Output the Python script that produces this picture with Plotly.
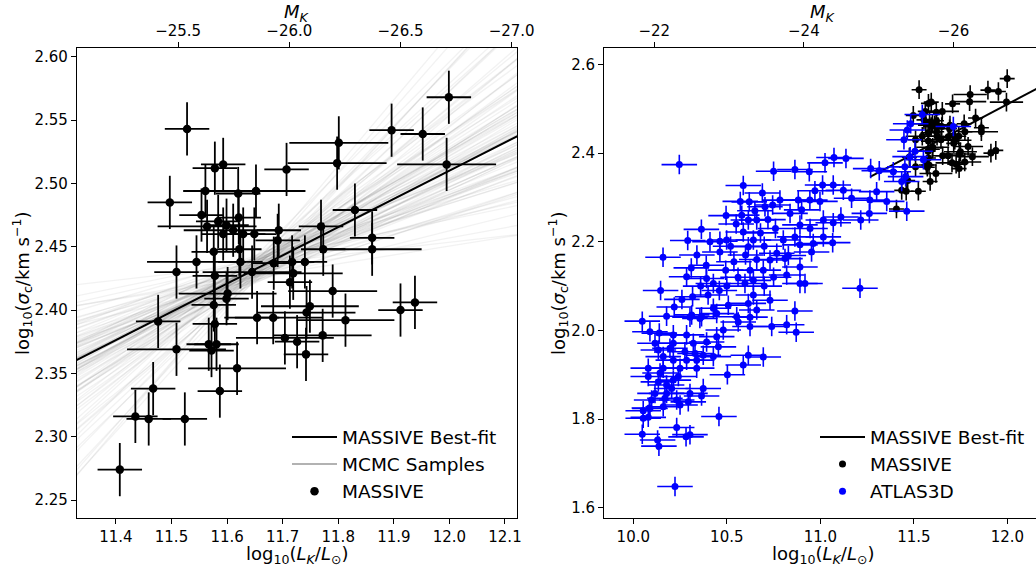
import plotly.graph_objects as go

# ---------------- data ----------------
MASSIVE_LOGLK = [11.528, 11.999, 11.896, 11.952, 11.801, 11.798, 11.995, 11.707, 11.578, 11.593,
                 11.497, 11.561, 11.620, 11.652, 11.554, 11.830, 11.584, 11.621, 11.564, 11.599,
                 11.611, 11.593, 11.629, 11.649, 11.693, 11.691, 11.769, 11.861, 11.861, 11.773,
                 11.576, 11.622, 11.509, 11.545, 11.624, 11.684, 11.717, 11.740, 11.578, 11.645,
                 11.719, 11.713, 11.790, 11.601, 11.599, 11.576, 11.938, 11.912, 11.749, 11.743,
                 11.654, 11.683, 11.813, 11.476, 11.578, 11.772, 11.704, 11.726, 11.567, 11.581,
                 11.572, 11.509, 11.742, 11.618, 11.467, 11.587, 11.435, 11.459, 11.524, 11.407]
MASSIVE_LOGSIG = [2.543, 2.568, 2.542, 2.539, 2.532, 2.516, 2.515, 2.511, 2.512, 2.515,
                  2.485, 2.494, 2.492, 2.494, 2.475, 2.479, 2.470, 2.473, 2.466, 2.467,
                  2.463, 2.460, 2.460, 2.460, 2.463, 2.455, 2.466, 2.457, 2.448, 2.448,
                  2.446, 2.448, 2.430, 2.438, 2.438, 2.437, 2.438, 2.438, 2.427, 2.430,
                  2.429, 2.422, 2.415, 2.413, 2.409, 2.404, 2.406, 2.400, 2.403, 2.398,
                  2.394, 2.394, 2.392, 2.391, 2.389, 2.380, 2.378, 2.375, 2.373, 2.373,
                  2.368, 2.369, 2.365, 2.354, 2.338, 2.336, 2.316, 2.314, 2.314, 2.274]
MASSIVE_XERR = [0.040, 0.040, 0.040, 0.040, 0.089, 0.089, 0.089, 0.040, 0.040, 0.040,
                0.040, 0.040, 0.040, 0.089, 0.040, 0.040, 0.040, 0.040, 0.089, 0.040,
                0.089, 0.040, 0.040, 0.040, 0.040, 0.040, 0.040, 0.040, 0.089, 0.040,
                0.040, 0.040, 0.040, 0.089, 0.040, 0.040, 0.040, 0.040, 0.040, 0.089,
                0.089, 0.040, 0.080, 0.088, 0.040, 0.040, 0.040, 0.040, 0.088, 0.088,
                0.040, 0.088, 0.088, 0.040, 0.040, 0.088, 0.088, 0.040, 0.040, 0.040,
                0.040, 0.089, 0.040, 0.088, 0.040, 0.040, 0.040, 0.040, 0.040, 0.040]
MASSIVE_YERR = [0.021, 0.021, 0.021, 0.021, 0.021, 0.021, 0.021, 0.021, 0.021, 0.021,
                0.021, 0.021, 0.021, 0.021, 0.021, 0.021, 0.021, 0.021, 0.021, 0.021,
                0.021, 0.021, 0.021, 0.021, 0.021, 0.021, 0.021, 0.021, 0.021, 0.021,
                0.021, 0.021, 0.021, 0.021, 0.021, 0.021, 0.021, 0.021, 0.021, 0.021,
                0.021, 0.021, 0.021, 0.021, 0.021, 0.021, 0.021, 0.021, 0.021, 0.021,
                0.021, 0.021, 0.021, 0.021, 0.021, 0.021, 0.021, 0.021, 0.021, 0.021,
                0.021, 0.021, 0.021, 0.021, 0.021, 0.021, 0.021, 0.021, 0.021, 0.021]

ATLAS_LOGLK = [
    10.246, 10.750, 10.588, 10.572, 10.496, 10.784, 10.364, 10.291, 10.463, 10.159,
    10.390, 10.310, 10.463, 10.285, 10.146, 10.317, 10.219, 10.615, 10.660, 10.704,
    10.745, 10.588, 10.642, 10.615, 10.499, 10.538, 10.494, 10.624, 10.392, 10.428,
    10.597, 10.642, 10.695, 10.731, 10.767, 10.642, 10.731, 10.615, 10.508, 10.428,
    10.312, 10.365, 10.553, 10.660, 10.550, 10.680, 10.720, 10.580, 10.650, 10.520,
    10.700, 10.600, 10.660, 10.560, 10.500, 10.460, 10.700, 10.750, 10.360, 10.400,
    10.260, 10.340, 10.410, 10.760, 10.620, 10.690,
    10.864, 10.941, 11.025, 11.073, 11.137, 11.269, 11.315, 11.390, 11.452, 10.971,
    11.012, 11.069, 11.123, 11.167, 10.882, 10.944, 10.998, 11.301, 11.355, 11.265,
    11.262, 11.216, 11.462, 11.110, 11.069, 11.016, 10.900, 10.838, 10.891, 10.945,
    11.016, 10.864, 10.802, 10.891, 10.962, 11.066, 10.829, 10.891, 10.953, 10.811,
    11.212, 10.891, 10.918, 10.820, 10.864,
    11.435, 11.456, 11.480, 11.551, 11.447, 11.465, 11.483, 11.545, 11.506, 11.711,
    10.048, 10.178, 10.089, 10.139, 10.214, 10.285, 10.116, 10.196, 10.160, 10.214,
    10.080, 10.160, 10.250, 10.339, 10.134, 10.178, 10.214, 10.241, 10.116, 10.178,
    10.169, 10.232, 10.303, 10.365, 10.374, 10.294, 10.250, 10.160, 10.089, 10.053,
    10.053, 10.080, 10.048, 10.130, 10.137, 10.232, 10.282, 10.303, 10.458, 10.223,
    10.503, 10.588, 10.615, 10.695, 10.392, 10.446, 10.481, 10.624, 10.740, 10.820,
    10.339, 10.285, 10.330, 10.374, 10.428, 10.455, 10.143, 10.080, 10.303, 10.356,
    10.446, 10.561, 10.624, 10.134, 10.214, 10.321, 10.276, 10.205, 10.098, 10.871,
    10.086]
ATLAS_LOGSIG = [
    2.374, 2.359, 2.327, 2.291, 2.259, 2.294, 2.228, 2.203, 2.201, 2.165,
    2.147, 2.141, 2.177, 2.121, 2.090, 2.076, 2.053, 2.249, 2.249, 2.279,
    2.283, 2.222, 2.204, 2.189, 2.204, 2.155, 2.136, 2.136, 2.117, 2.106,
    2.106, 2.113, 2.136, 2.159, 2.174, 2.080, 2.068, 2.061, 2.057, 2.050,
    2.035, 2.031, 2.031, 2.046, 2.240, 2.220, 2.250, 2.260, 2.270, 2.190,
    2.190, 2.170, 2.160, 2.120, 2.100, 2.090, 2.100, 2.120, 2.100, 2.080,
    2.070, 2.170, 2.200, 2.230, 2.290, 2.310,
    2.363, 2.358, 2.378, 2.390, 2.388, 2.365, 2.360, 2.358, 2.369, 2.315,
    2.328, 2.328, 2.316, 2.298, 2.294, 2.294, 2.291, 2.313, 2.291, 2.294,
    2.264, 2.249, 2.269, 2.256, 2.243, 2.249, 2.272, 2.264, 2.238, 2.230,
    2.211, 2.211, 2.204, 2.193, 2.196, 2.198, 2.169, 2.143, 2.177, 2.162,
    2.095, 2.106, 2.106, 2.125, 2.044,
    2.336, 2.347, 2.392, 2.385, 2.430, 2.452, 2.466, 2.487, 2.404, 2.460,
    2.021, 2.032, 1.997, 1.994, 1.990, 1.990, 1.971, 1.960, 1.941, 1.933,
    1.915, 1.915, 1.915, 1.915, 1.884, 1.877, 1.888, 1.896, 1.858, 1.858,
    1.847, 1.843, 1.858, 1.852, 1.869, 1.839, 1.832, 1.828, 1.824, 1.819,
    1.802, 1.804, 1.766, 1.753, 1.739, 1.781, 1.760, 1.765, 1.806, 1.648,
    1.900, 1.922, 1.944, 1.940, 1.974, 1.986, 2.001, 2.009, 2.009, 2.013,
    1.933, 1.933, 1.948, 1.944, 1.941, 1.963, 1.904, 1.896, 2.030, 2.027,
    2.038, 2.019, 2.030, 1.956, 1.971, 1.971, 1.952, 1.869, 1.843, 1.996,
    1.825]
ATLAS_XERR = 0.095
ATLAS_YERR = 0.022

# best-fit relation: log sigma = BEST_AT_PIVOT + BEST_SLOPE * (logL - BEST_PIVOT)
BEST_SLOPE = 0.223
BEST_PIVOT = 11.65
BEST_AT_PIVOT = 2.432
BEST_X = [11.266, 12.30]

# MCMC posterior samples (slope, offset at pivot)
MCMC_SLOPES = [0.05, 0.08, 0.10, 0.11, 0.12, 0.13, 0.14, 0.14, 0.15, 0.15,
               0.16, 0.16, 0.17, 0.17, 0.18, 0.18, 0.18, 0.19, 0.19, 0.19,
               0.20, 0.20, 0.20, 0.21, 0.21, 0.21, 0.22, 0.22, 0.22, 0.22,
               0.23, 0.23, 0.23, 0.24, 0.24, 0.24, 0.25, 0.25, 0.25, 0.26,
               0.26, 0.27, 0.27, 0.28, 0.28, 0.29, 0.29, 0.30, 0.31, 0.32,
               0.33, 0.34, 0.35, 0.36, 0.38, 0.40, 0.42, 0.45, 0.48, 0.52,
               0.07, 0.09, 0.12, 0.135, 0.145, 0.155, 0.165, 0.175, 0.185, 0.195,
               0.205, 0.215, 0.225, 0.235, 0.245, 0.255, 0.265, 0.275, 0.285, 0.295,
               0.305, 0.315, 0.325, 0.345, 0.37, 0.39, 0.41, 0.44, 0.47, 0.50,
               0.17, 0.19, 0.21, 0.23, 0.20, 0.22, 0.24, 0.26, 0.18, 0.25]
MCMC_OFFSETS = [0.004, -0.003, 0.006, -0.008, 0.001, 0.009, -0.005, 0.003, -0.010, 0.007,
                -0.002, 0.005, -0.006, 0.011, 0.000, -0.004, 0.008, -0.009, 0.002, -0.001,
                0.006, -0.007, 0.004, -0.003, 0.010, -0.011, 0.001, 0.005, -0.005, 0.003,
                -0.002, 0.007, -0.008, 0.000, 0.009, -0.004, 0.002, -0.006, 0.006, -0.001,
                0.004, -0.009, 0.008, -0.003, 0.001, -0.007, 0.005, 0.003, -0.005, 0.010,
                -0.002, 0.006, -0.010, 0.002, -0.004, 0.007, -0.006, 0.001, -0.008, 0.004,
                -0.006, 0.008, -0.002, 0.005, -0.009, 0.003, 0.000, -0.005, 0.007, -0.003,
                0.009, -0.007, 0.002, -0.001, 0.006, -0.010, 0.004, -0.004, 0.008, -0.002,
                0.001, 0.005, -0.006, 0.003, -0.008, 0.007, -0.003, 0.010, -0.005, 0.002,
                0.000, 0.003, -0.003, 0.005, -0.005, 0.001, -0.002, 0.004, -0.006, 0.006]
MCMC_X = [11.30, 12.15]

M_SUN_K = 3.28
LEFT_XRANGE = [11.33, 12.1216]
LEFT_YRANGE = [2.2358, 2.6069]
RIGHT_XRANGE = [9.845, 12.153]
RIGHT_YRANGE = [1.577, 2.637]

FONT = "DejaVu Sans"
W, H = 1036, 567


def mk(v):
    return M_SUN_K - 2.5 * v


def fit(x, a, b):
    return a + b * (x - BEST_PIVOT)


fig = go.Figure()

# ---- left panel ----
for s, o in zip(MCMC_SLOPES, MCMC_OFFSETS):
    fig.add_trace(go.Scatter(
        x=MCMC_X, y=[fit(v, BEST_AT_PIVOT + o, s) for v in MCMC_X],
        mode="lines", line=dict(color="rgba(100,100,100,0.085)", width=1.3),
        showlegend=False, hoverinfo="skip", xaxis="x", yaxis="y"))

fig.add_trace(go.Scatter(
    x=BEST_X, y=[fit(v, BEST_AT_PIVOT, BEST_SLOPE) for v in BEST_X],
    mode="lines", line=dict(color="black", width=2),
    name="MASSIVE Best-fit", legend="legend", xaxis="x", yaxis="y"))
fig.add_trace(go.Scatter(
    x=[None], y=[None], mode="lines", line=dict(color="rgba(128,128,128,0.8)", width=1.5),
    name="MCMC Samples", legend="legend", xaxis="x", yaxis="y"))
fig.add_trace(go.Scatter(
    x=MASSIVE_LOGLK, y=MASSIVE_LOGSIG, mode="markers",
    marker=dict(color="black", size=8.5),
    error_x=dict(type="data", array=MASSIVE_XERR, color="black", thickness=1.8, width=0),
    error_y=dict(type="data", array=MASSIVE_YERR, color="black", thickness=1.8, width=0),
    name="MASSIVE", legend="legend", xaxis="x", yaxis="y"))
# invisible carrier for top (M_K) axis
fig.add_trace(go.Scatter(x=[mk(v) for v in MASSIVE_LOGLK], y=MASSIVE_LOGSIG, mode="markers",
                         marker=dict(opacity=0), showlegend=False, hoverinfo="skip",
                         xaxis="x3", yaxis="y"))

# ---- right panel ----
fig.add_trace(go.Scatter(
    x=BEST_X, y=[fit(v, BEST_AT_PIVOT, BEST_SLOPE) for v in BEST_X],
    mode="lines", line=dict(color="black", width=2),
    name="MASSIVE Best-fit", legend="legend2", xaxis="x2", yaxis="y2"))
fig.add_trace(go.Scatter(
    x=MASSIVE_LOGLK, y=MASSIVE_LOGSIG, mode="markers",
    marker=dict(color="black", size=7),
    error_x=dict(type="data", array=MASSIVE_XERR, color="black", thickness=1.6, width=0),
    error_y=dict(type="data", array=MASSIVE_YERR, color="black", thickness=1.6, width=0),
    name="MASSIVE", legend="legend2", xaxis="x2", yaxis="y2"))
fig.add_trace(go.Scatter(
    x=ATLAS_LOGLK, y=ATLAS_LOGSIG, mode="markers",
    marker=dict(color="blue", size=7),
    error_x=dict(type="constant", value=ATLAS_XERR, color="blue", thickness=1.6, width=0),
    error_y=dict(type="constant", value=ATLAS_YERR, color="blue", thickness=1.6, width=0),
    name="ATLAS3D", legend="legend2", xaxis="x2", yaxis="y2"))
fig.add_trace(go.Scatter(x=[mk(v) for v in ATLAS_LOGLK], y=ATLAS_LOGSIG, mode="markers",
                         marker=dict(opacity=0), showlegend=False, hoverinfo="skip",
                         xaxis="x4", yaxis="y2"))

ax = dict(showline=True, linecolor="black", linewidth=1.3, ticks="outside", ticklen=5,
          tickwidth=1.2, tickcolor="black", showgrid=False, zeroline=False, automargin=False,
          tickfont=dict(family=FONT, size=15, color="black"))

xd1 = [77 / W, 517 / W]
xd2 = [604.3 / W, 1.0]
yd = [1 - 518 / H, 1 - 48 / H]

fig.update_layout(
    width=W, height=H, autosize=False, margin=dict(l=0, r=0, t=0, b=0, autoexpand=False),
    paper_bgcolor="white", plot_bgcolor="white",
    font=dict(family=FONT, color="black"),
    xaxis=dict(**ax, domain=xd1, range=LEFT_XRANGE, anchor="y",
               tickvals=[11.4, 11.5, 11.6, 11.7, 11.8, 11.9, 12.0, 12.1], tickformat=".1f"),
    yaxis=dict(**ax, domain=yd, range=LEFT_YRANGE, anchor="x", mirror=True,
               tickvals=[2.25, 2.30, 2.35, 2.40, 2.45, 2.50, 2.55, 2.60], tickformat=".2f"),
    xaxis3=dict(**ax, overlaying="x", side="top", anchor="y",
                range=[mk(LEFT_XRANGE[0]), mk(LEFT_XRANGE[1])],
                tickvals=[-25.5, -26.0, -26.5, -27.0],
                ticktext=["\u221225.5", "\u221226.0", "\u221226.5", "\u221227.0"]),
    xaxis2=dict(**ax, domain=xd2, range=RIGHT_XRANGE, anchor="y2",
                tickvals=[10.0, 10.5, 11.0, 11.5, 12.0], tickformat=".1f"),
    yaxis2=dict(**ax, domain=yd, range=RIGHT_YRANGE, anchor="x2",
                tickvals=[1.6, 1.8, 2.0, 2.2, 2.4, 2.6], tickformat=".1f"),
    xaxis4=dict(**ax, overlaying="x2", side="top", anchor="y2",
                range=[mk(RIGHT_XRANGE[0]), mk(RIGHT_XRANGE[1])],
                tickvals=[-22, -24, -26], ticktext=["\u221222", "\u221224", "\u221226"]),
    legend=dict(x=287 / W, y=1 - 418.5 / H, xanchor="left", yanchor="top", itemwidth=45,
                bgcolor="rgba(0,0,0,0)", font=dict(family=FONT, size=18.5, color="black")),
    legend2=dict(x=815 / W, y=1 - 418.5 / H, xanchor="left", yanchor="top", itemwidth=45,
                 bgcolor="rgba(0,0,0,0)", font=dict(family=FONT, size=18.5, color="black")),
)

ylab = "log<sub>10</sub>(<i>\u03c3</i><sub>c</sub>/km s<sup>\u22121</sup>)"
xlab = "log<sub>10</sub>(<i>L<sub>K</sub></i>/<i>L</i><sub>\u2299</sub>)"
mlab = "<i>M<sub>K</sub></i>"
annos = [
    dict(text=ylab, x=22 / W, y=1 - 283 / H, textangle=-90),
    dict(text=ylab, x=558 / W, y=1 - 283 / H, textangle=-90),
    dict(text=xlab, x=297 / W, y=1 - 555 / H),
    dict(text=xlab, x=823 / W, y=1 - 555 / H),
    dict(text=mlab, x=297 / W, y=1 - 13 / H),
    dict(text=mlab, x=823 / W, y=1 - 13 / H),
]
for a in annos:
    fig.add_annotation(xref="paper", yref="paper", showarrow=False,
                       xanchor="center", yanchor="middle",
                       font=dict(family=FONT, size=18, color="black"), **a)

NO_SCROLL_JS = (
    "document.documentElement.style.overflow='hidden';"
    "document.documentElement.style.margin='0';"
    "document.body.style.overflow='hidden';"
    "document.body.style.margin='0';"
    "document.body.style.padding='0';"
)

fig.write_html("out.html", config={"responsive": False}, post_script=NO_SCROLL_JS)
